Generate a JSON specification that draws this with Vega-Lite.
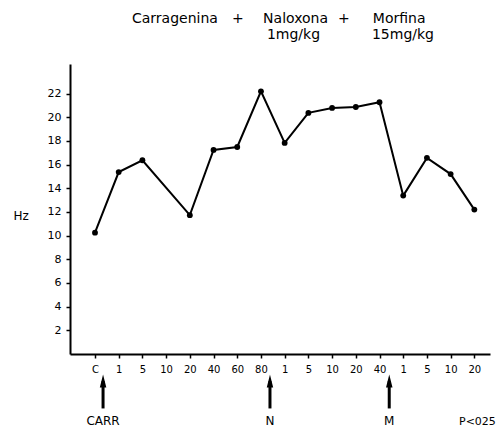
{
  "$schema": "https://vega.github.io/schema/vega-lite/v6.json",
  "width": 420,
  "height": 290,
  "autosize": {"type": "none"},
  "padding": {"left": 70, "top": 64, "right": 14, "bottom": 74},
  "background": "white",
  "config": {"view": {"stroke": null}, "font": "DejaVu Sans", "text": {"font": "DejaVu Sans", "color": "black"}},
  "datasets": {
    "series": [
      {"i": 0, "t": "C", "hz": 10.25},
      {"i": 1, "t": "1", "hz": 15.37},
      {"i": 2, "t": "5", "hz": 16.37},
      {"i": 4, "t": "20", "hz": 11.73},
      {"i": 5, "t": "40", "hz": 17.24},
      {"i": 6, "t": "60", "hz": 17.49},
      {"i": 7, "t": "80", "hz": 22.19},
      {"i": 8, "t": "1", "hz": 17.83},
      {"i": 9, "t": "5", "hz": 20.37},
      {"i": 10, "t": "10", "hz": 20.79},
      {"i": 11, "t": "20", "hz": 20.87},
      {"i": 12, "t": "40", "hz": 21.27},
      {"i": 13, "t": "1", "hz": 13.38},
      {"i": 14, "t": "5", "hz": 16.57},
      {"i": 15, "t": "10", "hz": 15.2},
      {"i": 16, "t": "20", "hz": 12.2}
    ],
    "heading": [
      {"x": 1.56, "y": 27.94, "w": "Carragenina"},
      {"x": 5.78, "y": 27.94, "w": "+"},
      {"x": 7.09, "y": 27.94, "w": "Naloxona"},
      {"x": 10.25, "y": 27.94, "w": "+"},
      {"x": 11.72, "y": 27.94, "w": "Morfina"},
      {"x": 7.25, "y": 26.6, "w": "1mg/kg"},
      {"x": 11.68, "y": 26.6, "w": "15mg/kg"}
    ],
    "events": [
      {"x": 0.34, "name": "CARR"},
      {"x": 7.38, "name": "N"},
      {"x": 12.41, "name": "M"}
    ],
    "note": [{"x": 16.13, "w": "P<025"}]
  },
  "layer": [
    {
      "data": {"name": "series"},
      "mark": {"type": "line", "color": "black", "strokeWidth": 2},
      "encoding": {
        "x": {
          "field": "i", "type": "quantitative",
          "scale": {"domain": [-1.054, 16.66], "nice": false, "zero": false},
          "axis": {
            "title": null, "grid": false, "tickCount": 40,
            "values": [0,1,2,3,4,5,6,7,8,9,10,11,12,13,14,15,16],
            "labelExpr": "['C','1','5','10','20','40','60','80','1','5','10','20','40','1','5','10','20'][datum.value]",
            "labelOverlap": false, "labelBound": false, "labelFlush": false,
            "domainColor": "black", "domainWidth": 2,
            "tickColor": "black", "tickWidth": 1.5, "tickSize": 4,
            "labelColor": "black", "labelFontSize": 10, "labelPadding": 6, "labelFont": "DejaVu Sans"
          }
        },
        "y": {
          "field": "hz", "type": "quantitative",
          "scale": {"domain": [0, 24.5], "nice": false, "zero": false},
          "axis": {
            "title": "Hz", "titleAngle": 0, "titleAlign": "left", "titleBaseline": "middle",
            "titleX": -57, "titleY": 151, "titleFontSize": 12, "titleFontWeight": "normal", "titleColor": "black", "titleFont": "DejaVu Sans",
            "grid": false, "tickCount": 40, "format": "d",
            "values": [2,4,6,8,10,12,14,16,18,20,22],
            "labelOverlap": false, "labelBound": false, "labelFlush": false,
            "domainColor": "black", "domainWidth": 2,
            "tickColor": "black", "tickWidth": 1.5, "tickSize": 4,
            "labelColor": "black", "labelFontSize": 11, "labelPadding": 5, "labelFont": "DejaVu Sans"
          }
        }
      }
    },
    {
      "data": {"name": "series"},
      "mark": {"type": "point", "filled": true, "color": "black", "size": 34, "opacity": 1},
      "encoding": {
        "x": {"field": "i", "type": "quantitative"},
        "y": {"field": "hz", "type": "quantitative"}
      }
    },
    {
      "data": {"name": "heading"},
      "mark": {"type": "text", "align": "left", "baseline": "alphabetic", "fontSize": 14},
      "encoding": {
        "x": {"field": "x", "type": "quantitative"},
        "y": {"field": "y", "type": "quantitative"},
        "text": {"field": "w"}
      }
    },
    {
      "data": {"name": "events"},
      "mark": {"type": "rule", "color": "black", "strokeWidth": 3},
      "encoding": {
        "x": {"field": "x", "type": "quantitative"},
        "y": {"datum": -2.28},
        "y2": {"datum": -4.6}
      }
    },
    {
      "data": {"name": "events"},
      "mark": {"type": "point", "filled": true, "color": "black", "opacity": 1, "size": 169, "shape": "M0,-1L0.5,1L-0.5,1Z"},
      "encoding": {
        "x": {"field": "x", "type": "quantitative"},
        "y": {"datum": -2.28}
      }
    },
    {
      "data": {"name": "events"},
      "mark": {"type": "text", "align": "center", "baseline": "alphabetic", "fontSize": 12},
      "encoding": {
        "x": {"field": "x", "type": "quantitative"},
        "y": {"datum": -6.04},
        "text": {"field": "name"}
      }
    },
    {
      "data": {"name": "note"},
      "mark": {"type": "text", "align": "center", "baseline": "alphabetic", "fontSize": 11},
      "encoding": {
        "x": {"field": "x", "type": "quantitative"},
        "y": {"datum": -6.04},
        "text": {"field": "w"}
      }
    }
  ]
}
